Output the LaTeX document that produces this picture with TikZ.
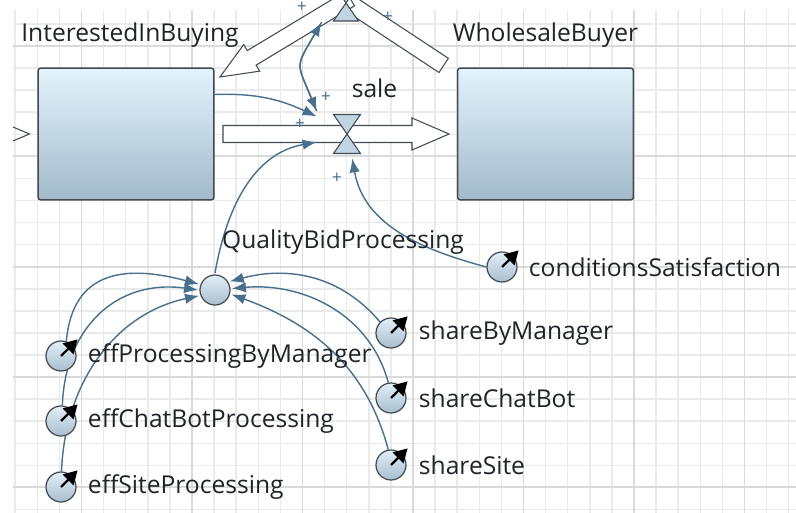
\documentclass[tikz,border=0pt]{standalone}
\usepackage{fontspec}
\setmainfont{Open Sans}
\usetikzlibrary{arrows.meta, positioning}

\definecolor{linkblue}{RGB}{72,112,140}
\definecolor{edgegray}{RGB}{66,74,82}
\definecolor{stocktop}{RGB}{228,243,252}
\definecolor{stockbot}{RGB}{162,186,203}
\definecolor{auxtop}{RGB}{226,239,248}
\definecolor{auxbot}{RGB}{168,190,206}
\definecolor{valvefill}{RGB}{192,212,225}
\definecolor{gridlight}{RGB}{234,234,234}
\definecolor{griddark}{RGB}{218,218,218}
\definecolor{labeltext}{RGB}{32,36,42}

\pgfdeclarelayer{back}
\pgfdeclarelayer{wires}
\pgfsetlayers{back,wires,main}

\begin{document}
\begin{tikzpicture}[
    x=0.02cm, y=-0.02cm,
    font=\fontsize{14}{16}\selectfont,
    stock/.style={draw=edgegray, line width=0.85pt, rounded corners=1.7pt,
        top color=stocktop, bottom color=stockbot,
        minimum width=3.52cm, minimum height=2.64cm, inner sep=0pt},
    aux/.style={circle, draw=edgegray, line width=0.7pt, top color=auxtop,
        bottom color=auxbot, minimum size=0.6cm, inner sep=0pt},
    zone/.style={inner sep=0pt, minimum width=1.2cm, minimum height=0.96cm},
    lbl/.style={text=labeltext, inner sep=0pt},
    pol/.style={text=linkblue, font=\fontsize{10}{11}\selectfont, inner sep=0pt},
    link/.style={draw=linkblue, line width=0.8pt,
        -{Latex[length=0.28cm, width=0.21cm]}},
    pipe/.style={draw=edgegray, line width=0.6pt, fill=white},
    valve/.style={draw=edgegray, line width=0.6pt, fill=valvefill},
    pointer/.style={line width=1.3pt, -{Triangle[length=0.27cm, width=0.3cm]}}
]

\useasboundingbox (0,0) rectangle (796,513);
\clip (0,0) rectangle (796,513);

% --- stocks and valves ---
\node[stock] (iib) at (126,134) {};
\node[stock] (wb)  at (545.5,134) {};
\node[lbl, above=0.4cm of iib, xshift=0.08cm] (iiblbl) {InterestedInBuying};
\node[lbl, above=0.4cm of wb] (wblbl) {WholesaleBuyer};

\node[zone] (sale) at (347,134) {};
\node[lbl] (salelbl) at (374.5,88) {sale};
\node[circle, inner sep=0pt, minimum size=1.28cm] (ret) at (346,1) {};

% --- auxiliary and parameters ---
\node[aux, outer sep=0.04cm] (qbp) at (215,290) {};
\node[lbl] (qbplbl) at (343,242) {QualityBidProcessing};

\node[aux] (csat) at (502,267) {};
\node[aux] (epm)  at (61,356) {};
\node[aux] (ecb)  at (61,421) {};
\node[aux] (esp)  at (61,487) {};
\node[aux] (sbm)  at (391,333) {};
\node[aux] (scb)  at (391,398) {};
\node[aux] (ssi)  at (391,465) {};

\node[lbl, right=0.22cm of csat] (csatlbl) {conditionsSatisfaction};
\node[lbl, right=0.22cm of epm]  (epmlbl)  {effProcessingByManager};
\node[lbl, right=0.22cm of ecb]  (ecblbl)  {effChatBotProcessing};
\node[lbl, right=0.22cm of esp]  (esplbl)  {effSiteProcessing};
\node[lbl, right=0.24cm of sbm]  (sbmlbl)  {shareByManager};
\node[lbl, right=0.24cm of scb]  (scblbl)  {shareChatBot};
\node[lbl, right=0.24cm of ssi]  (ssilbl)  {shareSite};

\foreach \p in {csat, epm, ecb, esp, sbm, scb, ssi}
    \draw[pointer] (\p.center) -- ++(45:0.47cm);

% --- polarities ---
\node[pol] (pol1) at (326,97)  {+};
\node[pol] (pol2) at (300,124) {+};
\node[pol] (pol3) at (337,178) {+};
\node[pol] (pol4) at (302,7)   {+};
\node[pol] (pol5) at (388,17)  {+};

% --- grid, pipes ---
\begin{pgfonlayer}{back}
\fill[white] (0,0) rectangle (796,513);
\foreach \k in {0,...,35}
    \draw[gridlight, line width=0.9pt] (15.2+22.1*\k,10) -- (15.2+22.1*\k,513);
\foreach \k in {0,...,22}
    \draw[gridlight, line width=0.9pt] (13,24+22.07*\k) -- (796,24+22.07*\k);
\foreach \gx in {81.5,192,302.5,413,523.5,634,744.5}
    \draw[griddark, line width=1.1pt] (\gx,10) -- (\gx,513);
\foreach \gy in {46.1,156.4,266.7,377,487.3}
    \draw[griddark, line width=1.1pt] (13,\gy) -- (796,\gy);

% sale flow
\draw[pipe] (223,125.5) -- (412,125.5) -- (412,118) -- (449,134)
    -- (412,150) -- (412,142.5) -- (223,142.5) -- cycle;
% return flow
\begin{scope}[shift={(346,1)}, rotate=-33.4]
    \draw[pipe] (0,-8.5) rectangle (117,8.5);
\end{scope}
\begin{scope}[shift={(220,77)}, rotate=31.1]
    \draw[pipe] (0,0) -- (37,-15.5) -- (37,-8.5) -- (152,-8.5) -- (152,8.5)
        -- (37,8.5) -- (37,15.5) -- cycle;
\end{scope}
% inflow tip at the left
\draw[edgegray, line width=0.6pt] (13,127) -- (29.5,134) -- (13,141);

% valves
\filldraw[valve] (sale.center) -- ++(-13.5,-19.5) -- ++(27,0) -- cycle;
\filldraw[valve] (sale.center) -- ++(-13.5,19.5) -- ++(27,0) -- cycle;
\filldraw[valve] (346,3) -- (333.5,21) -- (358.5,21) -- cycle;
\filldraw[valve] (346,3) -- (333.5,-16) -- (358.5,-16) -- cycle;
\end{pgfonlayer}

% --- links ---
\begin{pgfonlayer}{wires}
\draw[link] (iib.24) to[out=2, in=155] (sale.150);
\draw[link] (sale.143) to[out=112, in=-120, looseness=1.6] (ret.-139);
\draw[link] (ret.-139) to[out=-120, in=112, looseness=1.6] (sale.143);
\draw[link] (qbp.north) to[out=80, in=190] (sale.195);
\draw[link] (csat.west) to[out=165, in=-80] (sale.-78);

\draw[link] (epm.70) to[out=85, in=165, looseness=1.3] (qbp.160);
\draw[link] (ecb.85) to[out=88, in=172, looseness=1.15] (qbp.180);
\draw[link] (esp.88) to[out=88, in=192] (qbp.200);
\draw[link] (sbm.135) to[out=130, in=15] (qbp.30);
\draw[link] (scb.100) to[out=105, in=5] (qbp.5);
\draw[link] (ssi.100) to[out=105, in=-20] (qbp.-15);
\end{pgfonlayer}

\end{tikzpicture}
\end{document}
